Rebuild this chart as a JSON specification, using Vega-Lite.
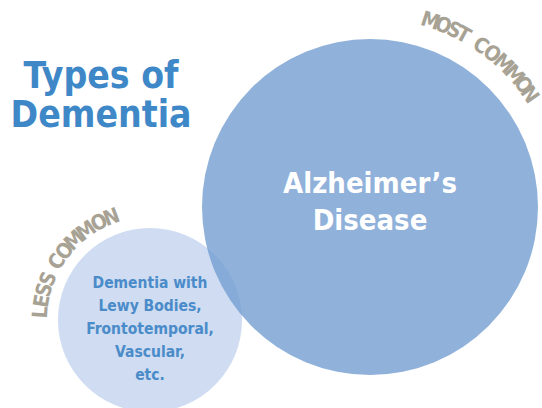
{
  "$schema": "https://vega.github.io/schema/vega-lite/v6.json",
  "width": 542,
  "height": 408,
  "padding": 0,
  "autosize": {"type": "none"},
  "background": "white",
  "config": {"view": {"stroke": null}},
  "datasets": {
    "circles": [
      {"name": "Other types", "share": 21, "x": 15.0, "y": 32.0},
      {"name": "Alzheimer's", "share": 70, "x": 37.0, "y": 20.7}
    ],
    "labels": [
      {"group": "title", "text": "Types of", "x": 10.1, "y": 8.8},
      {"group": "title", "text": "Dementia", "x": 10.1, "y": 12.7},
      {"group": "major", "text": "Alzheimer’s", "x": 37.0, "y": 19.3},
      {"group": "major", "text": "Disease", "x": 37.0, "y": 23.0},
      {"group": "minor", "text": "Dementia with", "x": 15.0, "y": 28.8},
      {"group": "minor", "text": "Lewy Bodies,", "x": 15.0, "y": 31.1},
      {"group": "minor", "text": "Frontotemporal,", "x": 15.0, "y": 33.4},
      {"group": "minor", "text": "Vascular,", "x": 15.0, "y": 35.7},
      {"group": "minor", "text": "etc.", "x": 15.0, "y": 38.0}
    ],
    "letters": [
      {"ch": "M", "x": 43.03, "y": 2.16, "deg": 18},
      {"ch": "O", "x": 44.30, "y": 2.62, "deg": 22},
      {"ch": "S", "x": 45.39, "y": 3.10, "deg": 25.5},
      {"ch": "T", "x": 46.31, "y": 3.56, "deg": 28.5},
      {"ch": "C", "x": 48.04, "y": 4.63, "deg": 34.5},
      {"ch": "O", "x": 49.14, "y": 5.44, "deg": 38.5},
      {"ch": "M", "x": 50.30, "y": 6.44, "deg": 43},
      {"ch": "M", "x": 51.38, "y": 7.53, "deg": 47.5},
      {"ch": "O", "x": 52.26, "y": 8.56, "deg": 51.5},
      {"ch": "N", "x": 52.90, "y": 9.51, "deg": 55},
      {"ch": "L", "x": 4.13, "y": 31.24, "deg": -86},
      {"ch": "E", "x": 4.27, "y": 30.11, "deg": -80},
      {"ch": "S", "x": 4.52, "y": 29.00, "deg": -74},
      {"ch": "S", "x": 4.89, "y": 27.92, "deg": -68},
      {"ch": "C", "x": 5.76, "y": 26.22, "deg": -58},
      {"ch": "O", "x": 6.53, "y": 25.14, "deg": -51},
      {"ch": "M", "x": 7.50, "y": 24.09, "deg": -43.5},
      {"ch": "M", "x": 8.67, "y": 23.13, "deg": -35.5},
      {"ch": "O", "x": 9.97, "y": 22.33, "deg": -27.5},
      {"ch": "N", "x": 11.18, "y": 21.79, "deg": -20.5}
    ]
  },
  "layer": [
    {
      "data": {"name": "circles"},
      "mark": {"type": "point", "shape": "circle", "filled": true, "strokeWidth": 0},
      "encoding": {
        "x": {"field": "x", "type": "quantitative", "axis": null, "scale": {"domain": [0, 54.2], "nice": false, "zero": false}},
        "y": {"field": "y", "type": "quantitative", "axis": null, "scale": {"domain": [0, 40.8], "nice": false, "zero": false, "reverse": true}},
        "size": {"field": "share", "type": "quantitative", "legend": null, "scale": {"domain": [0, 70], "range": [0, 112896], "zero": true}},
        "color": {"field": "name", "type": "nominal", "legend": null, "scale": {"domain": ["Other types", "Alzheimer's"], "range": ["#cfdcf1", "#759fd2"]}},
        "opacity": {"field": "name", "type": "nominal", "legend": null, "scale": {"domain": ["Other types", "Alzheimer's"], "range": [1, 0.81]}}
      }
    },
    {
      "data": {"name": "labels"},
      "transform": [{"filter": "datum.group === 'title'"}],
      "mark": {"type": "text", "font": "DejaVu Sans Condensed, DejaVu Sans, sans-serif", "fontWeight": "bold", "fontSize": 37, "color": "#3f88c8", "align": "center", "baseline": "alphabetic"},
      "encoding": {
        "x": {"field": "x", "type": "quantitative"},
        "y": {"field": "y", "type": "quantitative"},
        "text": {"field": "text"}
      }
    },
    {
      "data": {"name": "labels"},
      "transform": [{"filter": "datum.group === 'major'"}],
      "mark": {"type": "text", "font": "DejaVu Sans Condensed, DejaVu Sans, sans-serif", "fontWeight": "bold", "fontSize": 29, "color": "#ffffff", "align": "center", "baseline": "alphabetic"},
      "encoding": {
        "x": {"field": "x", "type": "quantitative"},
        "y": {"field": "y", "type": "quantitative"},
        "text": {"field": "text"}
      }
    },
    {
      "data": {"name": "labels"},
      "transform": [{"filter": "datum.group === 'minor'"}],
      "mark": {"type": "text", "font": "DejaVu Sans Condensed, DejaVu Sans, sans-serif", "fontWeight": "bold", "fontSize": 15.5, "color": "#4a8bc9", "align": "center", "baseline": "alphabetic"},
      "encoding": {
        "x": {"field": "x", "type": "quantitative"},
        "y": {"field": "y", "type": "quantitative"},
        "text": {"field": "text"}
      }
    },
    {
      "data": {"name": "letters"},
      "mark": {"type": "text", "font": "DejaVu Sans Condensed, DejaVu Sans, sans-serif", "fontWeight": "bold", "fontSize": 21, "color": "#a7a294", "align": "center", "baseline": "middle"},
      "encoding": {
        "x": {"field": "x", "type": "quantitative"},
        "y": {"field": "y", "type": "quantitative"},
        "text": {"field": "ch"},
        "angle": {"field": "deg", "type": "quantitative", "scale": null}
      }
    }
  ]
}
